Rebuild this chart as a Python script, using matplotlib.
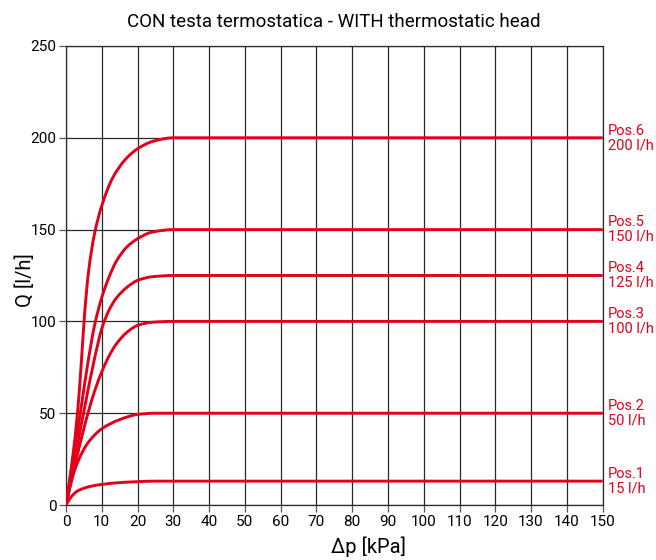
import matplotlib
matplotlib.use("Agg")
import matplotlib.pyplot as plt
from matplotlib.path import Path
from matplotlib.patches import PathPatch
from matplotlib import font_manager

names = {f.name for f in font_manager.fontManager.ttflist}
fam = ['Liberation Sans Narrow', 'DejaVu Sans'] if 'Liberation Sans Narrow' in names else ['Roboto', 'DejaVu Sans']
plt.rcParams['font.family'] = fam

title = "CON testa termostatica - WITH thermostatic head"
x_label = "Δp [kPa]"
y_label = "Q [l/h]"
x_ticks = list(range(0, 151, 10))
y_ticks = [0, 50, 100, 150, 200, 250]

labels = ["Pos.1\n15 l/h", "Pos.2\n50 l/h", "Pos.3\n100 l/h",
          "Pos.4\n125 l/h", "Pos.5\n150 l/h", "Pos.6\n200 l/h"]

pos1_dp = [0, 1.4, 3.2, 6.7, 10, 15, 20, 25, 150]
pos1_q = [0, 4.3, 7.6, 10.1, 11.2, 12.2, 12.7, 13, 13]

pos2_dp = [0, 1.5, 3.2, 6, 10, 15, 20, 25, 30, 150]
pos2_q = [0, 13, 23, 33.5, 41.5, 46.5, 49.3, 50, 50, 50]

pos3_dp = [0, 3, 6, 8, 10, 12, 14, 17, 20, 24, 30, 150]
pos3_q = [0, 26, 49, 62, 72.5, 81, 87.5, 94, 97.8, 99.5, 100, 100]

pos4_dp = [0, 2.5, 5, 8, 10, 12, 14, 17, 20, 24, 30, 150]
pos4_q = [0, 26, 51, 80, 96, 106, 112.5, 118.5, 122.3, 124.3, 125, 125]

pos5_dp = [0, 2, 4, 6, 8, 10, 12, 14, 17, 20, 24, 30, 150]
pos5_q = [0, 25, 50, 76, 98, 113, 124, 132.5, 140.5, 145, 148.6, 150, 150]

pos6_dp = [0, 2, 3.3, 4.3, 5.2, 6.3, 8, 10, 13, 16.5, 20, 24.5, 30, 150]
pos6_q = [0, 28, 52, 78, 104, 127, 148, 163, 178, 188, 194, 198.2, 200, 200]

series = [(pos1_dp, pos1_q), (pos2_dp, pos2_q), (pos3_dp, pos3_q),
          (pos4_dp, pos4_q), (pos5_dp, pos5_q), (pos6_dp, pos6_q)]

red = '#E2001A'


def smooth_path(xs, ys):
    """Monotone cubic (Fritsch-Carlson) through the read points, as Bezier path."""
    n = len(xs)
    d = [(ys[i + 1] - ys[i]) / (xs[i + 1] - xs[i]) for i in range(n - 1)]
    m = [0.0] * n
    m[0] = d[0]
    m[-1] = d[-1]
    for i in range(1, n - 1):
        if d[i - 1] * d[i] <= 0:
            m[i] = 0.0
        else:
            h0 = xs[i] - xs[i - 1]
            h1 = xs[i + 1] - xs[i]
            w1 = 2 * h1 + h0
            w2 = h1 + 2 * h0
            m[i] = (w1 + w2) / (w1 / d[i - 1] + w2 / d[i])
    verts = [(xs[0], ys[0])]
    codes = [Path.MOVETO]
    for i in range(n - 1):
        h = xs[i + 1] - xs[i]
        verts += [(xs[i] + h / 3, ys[i] + m[i] * h / 3),
                  (xs[i + 1] - h / 3, ys[i + 1] - m[i + 1] * h / 3),
                  (xs[i + 1], ys[i + 1])]
        codes += [Path.CURVE4] * 3
    return Path(verts, codes)


fig = plt.figure(figsize=(6.56, 5.6), dpi=100)
ax = fig.add_axes([0.1006, 0.0982, 0.8180, 0.8197])

for (dp, q), lab in zip(series, labels):
    ax.add_patch(PathPatch(smooth_path(dp, q), facecolor='none', edgecolor=red,
                           lw=2.1, capstyle='butt', zorder=3))
    ax.annotate(lab, xy=(1.0, q[-1]), xycoords=('axes fraction', 'data'),
                xytext=(4, 0), textcoords='offset points',
                ha='left', va='center', color=red, fontsize=10.5,
                linespacing=1.05, annotation_clip=False)

ax.set_xlim(0, 150)
ax.set_ylim(0, 250)
ax.set_xticks(x_ticks)
ax.set_yticks(y_ticks)
ax.grid(True, color='#2a2a2a', lw=0.9, zorder=1)
for s in ax.spines.values():
    s.set_color('#2a2a2a')
    s.set_linewidth(0.9)
ax.tick_params(axis='both', length=5, width=0.9, color='#555555',
               labelsize=11, pad=2)
ax.set_title(title, fontsize=13.5, pad=14)
ax.set_xlabel(x_label, fontsize=14.5)
ax.xaxis.set_label_coords((369 - 66) / 537, -0.068)
ax.set_ylabel(y_label, fontsize=14.5)
ax.yaxis.set_label_coords(-0.058, 0.49)

fig.savefig('out.png', dpi=100)
